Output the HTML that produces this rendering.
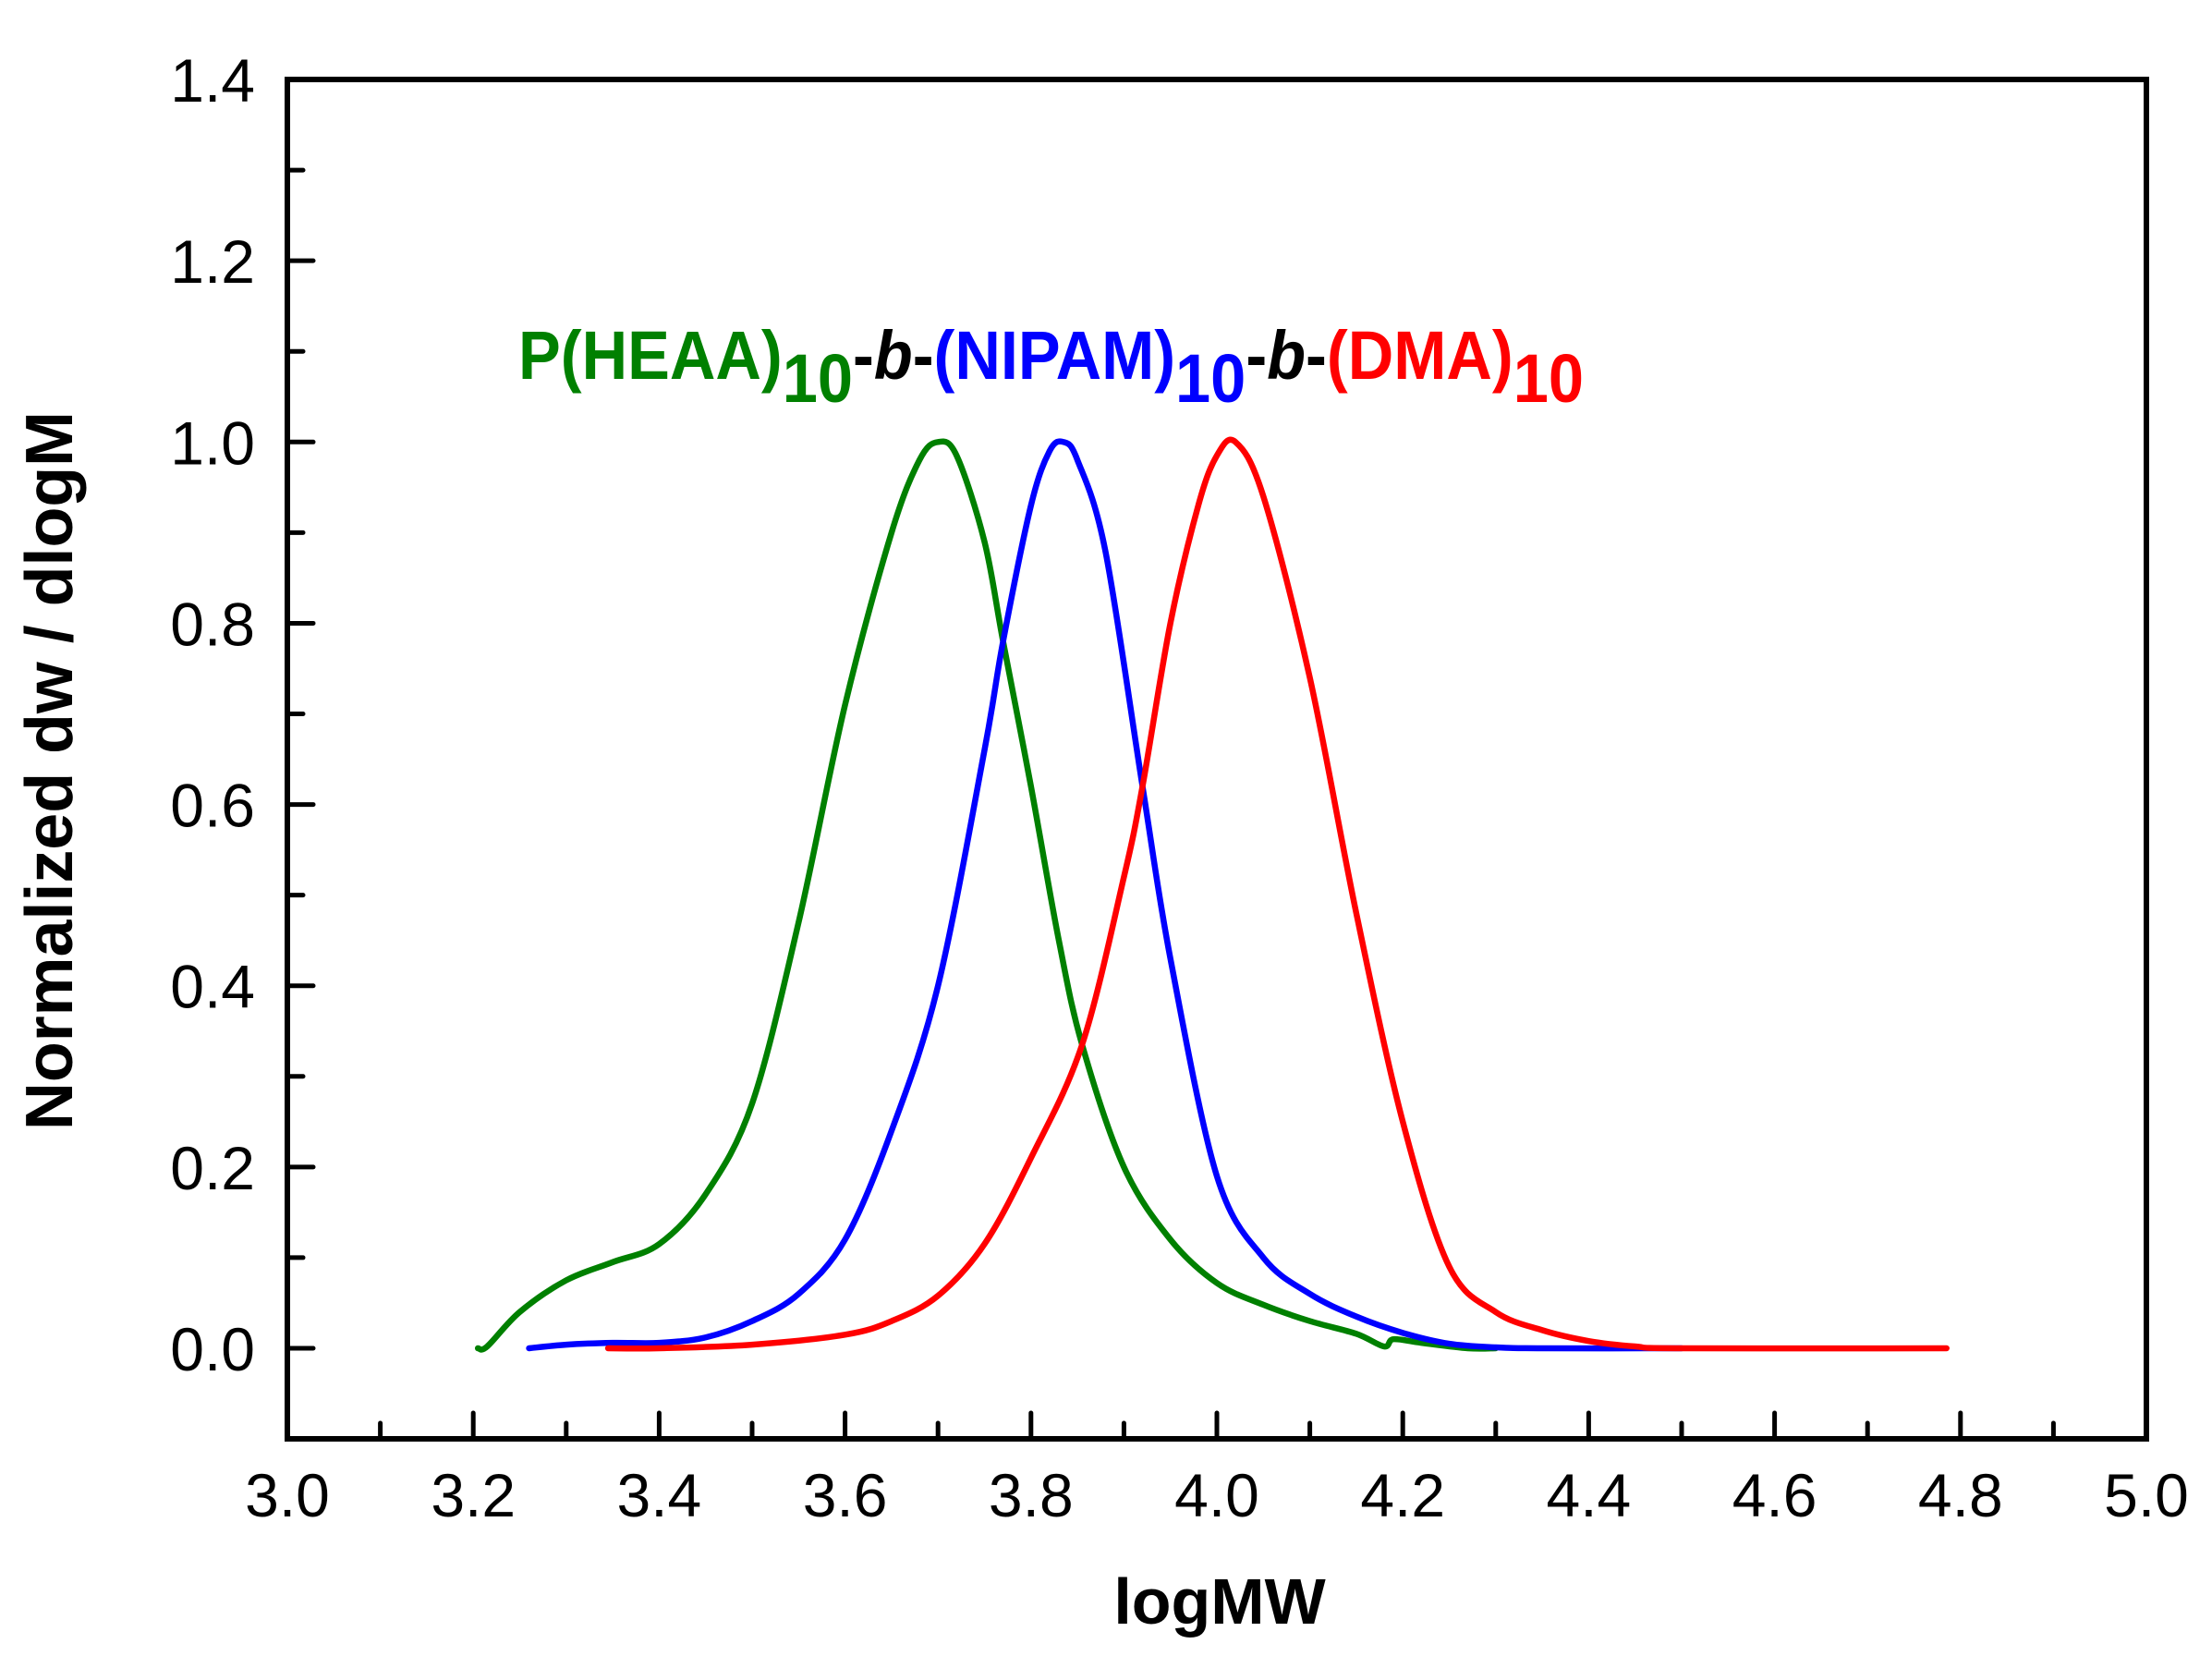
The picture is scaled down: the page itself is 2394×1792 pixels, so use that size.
<!DOCTYPE html>
<html><head><meta charset="utf-8"><style>
html,body{margin:0;padding:0;background:#fff;}
svg{display:block;}
text{font-family:"Liberation Sans",Arial,sans-serif;}
</style></head><body>
<svg id="s" width="2394" height="1792" viewBox="0 0 2394 1792" xmlns="http://www.w3.org/2000/svg">
<rect width="2394" height="1792" fill="#fff"/>
<g id="ticks" stroke="#000" stroke-width="5" stroke-linecap="round"></g>
<g id="labels" font-size="66" fill="#000"></g>
<g id="curves" fill="none" stroke-width="6.5" stroke-linejoin="round" stroke-linecap="round"></g>
<rect x="311" y="86" width="2012" height="1471" fill="none" stroke="#000" stroke-width="6"/>
<text x="1320" y="1757" font-size="70" font-weight="bold" text-anchor="middle">logMW</text>
<text transform="translate(78,834) rotate(-90)" font-size="72" font-weight="bold" text-anchor="middle" textLength="778" lengthAdjust="spacingAndGlyphs">Normalized dw / dlogM</text>
<text x="561" y="410" font-size="74" font-weight="bold" textLength="1153" lengthAdjust="spacingAndGlyphs"><tspan fill="#008000">P(HEAA)</tspan><tspan fill="#008000" dy="25">10</tspan><tspan fill="#000" dy="-25">-</tspan><tspan fill="#000" font-style="italic">b</tspan><tspan fill="#000">-</tspan><tspan fill="#0000ff">(NIPAM)</tspan><tspan fill="#0000ff" dy="25">10</tspan><tspan fill="#000" dy="-25">-</tspan><tspan fill="#000" font-style="italic">b</tspan><tspan fill="#000">-</tspan><tspan fill="#ff0000">(DMA)</tspan><tspan fill="#ff0000" dy="25">10</tspan></text>
</svg>
<script>
var NS="http://www.w3.org/2000/svg";
function X(v){return 311+(v-3)*1006;}
function Y(v){return 1459-v*980.7;}
function el(p,t,a,txt){var e=document.createElementNS(NS,t);for(var k in a)e.setAttribute(k,a[k]);if(txt)e.textContent=txt;document.getElementById(p).appendChild(e);return e;}
for(var i=-1;i<=14;i++){var v=i/10,y=Y(v);var L=(i%2==0)?28:17;
 if(y>88&&y<1555)el("ticks","line",{x1:311,y1:y,x2:311+L,y2:y});
 if(i%2==0&&i>=0)el("labels","text",{x:276,y:y+24,"text-anchor":"end"},v.toFixed(1));}
for(var i=30;i<=50;i++){var x=X(i/10);var L=(i%2==0)?28:17;if(i>30&&i<50)el("ticks","line",{x1:x,y1:1557,x2:x,y2:1557-L});
 if(i%2==0)el("labels","text",{x:x,y:1641,"text-anchor":"middle"},(i/10).toFixed(1));}
function path(pts,col){var P=pts.map(function(p){return [X(p[0]),Y(p[1])];});
 var d="M"+P[0][0]+","+P[0][1];
 for(var i=0;i<P.length-1;i++){var p0=P[i-1]||P[i],p1=P[i],p2=P[i+1],p3=P[i+2]||P[i+1];
  var c1=[p1[0]+(p2[0]-p0[0])/6,p1[1]+(p2[1]-p0[1])/6],c2=[p2[0]-(p3[0]-p1[0])/6,p2[1]-(p3[1]-p1[1])/6];
  d+=" C"+c1+" "+c2+" "+p2;}
 el("curves","path",{d:d,stroke:col});}
path([[3.205,0],[3.215,0.002],[3.25,0.04],[3.3,0.075],[3.35,0.095],[3.4,0.115],[3.45,0.17],[3.5,0.27],[3.55,0.47],[3.6,0.71],[3.65,0.9],[3.68,0.98],[3.7,1.0],[3.72,0.985],[3.75,0.89],[3.77,0.78],[3.8,0.62],[3.83,0.45],[3.855,0.335],[3.9,0.2],[3.95,0.12],[4.0,0.072],[4.05,0.048],[4.1,0.03],[4.15,0.016],[4.18,0.002],[4.19,0.01],[4.22,0.006],[4.27,0],[4.3,0]],"#008000");
path([[3.26,0],[3.3,0.004],[3.35,0.006],[3.4,0.006],[3.45,0.012],[3.5,0.03],[3.55,0.06],[3.6,0.12],[3.65,0.24],[3.7,0.4],[3.75,0.66],[3.77,0.78],[3.8,0.93],[3.82,0.99],[3.835,1.0],[3.85,0.98],[3.88,0.88],[3.92,0.62],[3.95,0.43],[4.0,0.19],[4.05,0.1],[4.1,0.06],[4.15,0.035],[4.2,0.017],[4.25,0.005],[4.3,0.001],[4.35,0],[4.5,0]],"#0000ff");
path([[3.345,0],[3.4,0],[3.5,0.004],[3.6,0.015],[3.65,0.03],[3.7,0.058],[3.75,0.115],[3.8,0.21],[3.855,0.335],[3.9,0.52],[3.92,0.62],[3.95,0.8],[3.98,0.93],[4.0,0.985],[4.02,1.0],[4.05,0.94],[4.1,0.74],[4.15,0.48],[4.2,0.25],[4.25,0.09],[4.3,0.04],[4.35,0.02],[4.4,0.008],[4.45,0.002],[4.5,0],[4.785,0]],"#ff0000");
</script>
</body></html>
